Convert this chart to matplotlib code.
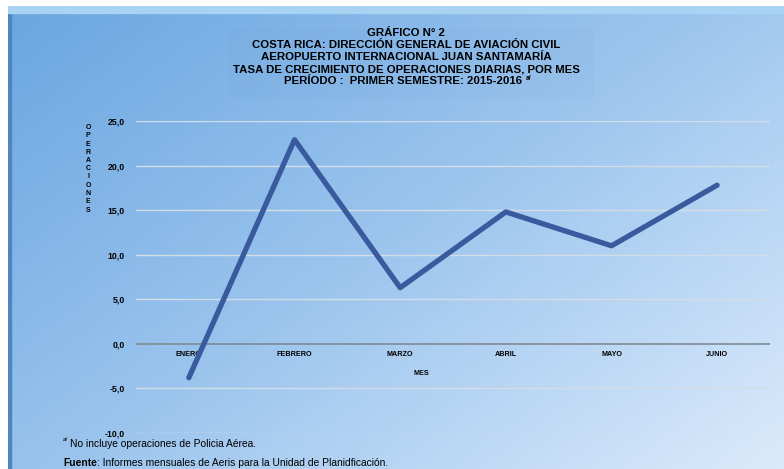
import numpy as np
from matplotlib import pyplot as plt
from matplotlib.colors import LinearSegmentedColormap

meses = ["ENERO", "FEBRERO", "MARZO", "ABRIL", "MAYO", "JUNIO"]
tasa = [-3.8, 22.9, 6.3, 14.8, 11.0, 17.8]
yticks = [-10, -5, 0, 5, 10, 15, 20, 25]
ytick_labels = ["-10,0", "-5,0", "0,0", "5,0", "10,0", "15,0", "20,0", "25,0"]

titulo = ["GRÁFICO N° 2",
          "COSTA RICA: DIRECCIÓN GENERAL DE AVIACIÓN CIVIL",
          "AEROPUERTO INTERNACIONAL JUAN SANTAMARÍA",
          "TASA DE CRECIMIENTO DE OPERACIONES DIARIAS, POR MES",
          "PERÍODO :  PRIMER SEMESTRE: 2015-2016"]

fig = plt.figure(figsize=(7.84, 4.69), dpi=100)
W, H = 784, 469

# background panel with diagonal gradient
bg = fig.add_axes([8 / W, 0, 1 - 8 / W, 1 - 6 / H])
bg.set_axis_off()
xx, yy = np.meshgrid(np.linspace(0, 1, 300), np.linspace(0, 1, 200))
grad = 0.55 * xx + 0.45 * yy
cmap = LinearSegmentedColormap.from_list("fondo", ["#6aa6e0", "#9cc5ee", "#dbeafb"])
bg.imshow(grad, cmap=cmap, aspect="auto", origin="upper", extent=[0, 1, 0, 1])
bg.set_xlim(0, 1)
bg.set_ylim(0, 1)
# darker left edge and light top strip
bg.axvspan(0, 0.004, color="#4f86c2")
bg.axhspan(0.985, 1, color="#a9d3f3")
# faint box behind title
bg.add_patch(plt.Rectangle((0.285, 0.8), 0.47, 0.15, color="#5b8cc4", alpha=0.05, lw=0))

for i, linea in enumerate(titulo):
    xc = 403 if i == len(titulo) - 1 else 406
    fig.text(xc / W, 1 - (33 + 12 * i) / H, linea, ha="center", va="center",
             fontsize=8.2, fontweight="bold", family="Liberation Sans")
fig.text(526 / W, 1 - 79 / H, "a/", fontsize=4.8, fontweight="bold",
         family="Liberation Sans", va="center")

ax = fig.add_axes([136 / W, 1 - 433 / H, (770 - 136) / W, (433 - 121) / H])
ax.set_facecolor("none")
x = np.arange(len(meses))
ax.set_xlim(-0.5, len(meses) - 0.5)
ax.set_ylim(-10, 25)
for yv in yticks:
    if yv == 0:
        ax.axhline(yv, color="#7f8a96", lw=1.2, zorder=1)
    else:
        ax.axhline(yv, color="#d4dde6", lw=1.0, zorder=1)
ax.plot(x, tasa, color="#3a5a9e", lw=3.8, solid_capstyle="round", zorder=3)

ax.set_yticks(yticks)
ax.set_yticklabels(ytick_labels, fontsize=6.3, fontweight="bold", family="Liberation Sans")
ax.tick_params(axis="y", length=0, pad=8)
ax.set_xticks([])
for s in ax.spines.values():
    s.set_visible(False)

for i, m in enumerate(meses):
    ax.text(i, -0.8, m, ha="center", va="top", fontsize=5.2, fontweight="bold",
            family="Liberation Sans", zorder=2)
ax.text(2.2, -2.9, "MES", ha="center", va="top", fontsize=5.2, fontweight="bold",
        family="Liberation Sans")

fig.text(88 / W, 1 - 124 / H, "\n".join("OPERACIONES"), ha="center", va="top",
         fontsize=5.0, fontweight="bold", family="Liberation Sans", linespacing=1.25)

fig.text(63 / W, 1 - 439 / H, "a/", fontsize=4.5, family="Liberation Sans", va="center")
fig.text(70 / W, 1 - 444 / H, "No incluye operaciones de Policia Aérea.",
         fontsize=7.4, family="Liberation Sans", va="center")
t_fuente = fig.text(63 / W, 1 - 463 / H, "Fuente", fontsize=7.4, fontweight="bold",
                    family="Liberation Sans", va="center")
fig.canvas.draw()
x_fin = t_fuente.get_window_extent().x1
fig.text(x_fin / W, 1 - 463 / H, ": Informes mensuales de Aeris para la Unidad de Planidficación.",
         fontsize=7.4, family="Liberation Sans", va="center")

fig.savefig("out.png", dpi=100)
